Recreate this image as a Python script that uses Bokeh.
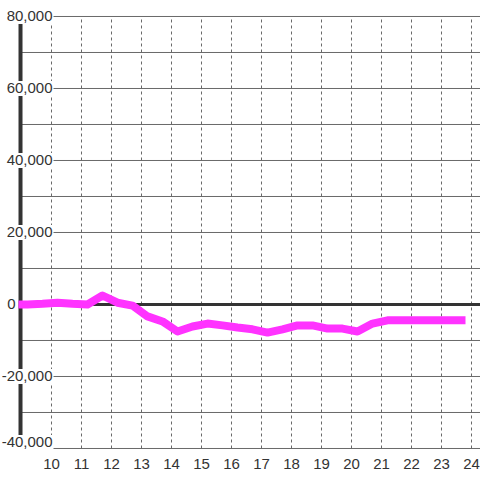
from bokeh.plotting import figure
from bokeh.models import Range1d, FixedTicker, ColumnDataSource
from bokeh.core.properties import value
from bokeh.embed import file_html
from bokeh.resources import INLINE

# ---- data ----
hours = [8.9, 9.2, 9.7, 10.2, 10.7, 11.2, 11.7, 12.2, 12.7, 13.2, 13.7, 14.2, 14.7,
         15.2, 15.7, 16.2, 16.7, 17.2, 17.7, 18.2, 18.7, 19.2, 19.7, 20.2, 20.7,
         21.2, 21.7, 22.2, 22.7, 23.2, 23.8]
values = [0, 0, 200, 500, 200, 0, 2500, 500, -300, -3300, -4700, -7500, -6100,
          -5300, -5800, -6400, -6900, -7800, -6900, -5800, -5800, -6700, -6700, -7500, -5300,
          -4400, -4400, -4400, -4400, -4400, -4400]
x_ticks = [10, 11, 12, 13, 14, 15, 16, 17, 18, 19, 20, 21, 22, 23, 24]
y_grid = [-40000, -30000, -20000, -10000, 0, 10000, 20000, 30000, 40000, 50000,
          60000, 70000, 80000]
y_label_vals = [-40000, -20000, 0, 20000, 40000, 60000, 80000]
y_labels = ["-40,000", "-20,000", "0", "20,000", "40,000", "60,000", "80,000"]

FONT = value("Liberation Sans")
W, H, BOTTOM = 480, 480, 31
X0, X1 = 8.3, 24.3
Y0, Y1 = -40278, 84444
AXIS_X = 8.967
DXPP = (X1 - X0) / W              # data units per pixel (x)
DYPP = (Y1 - Y0) / (H - BOTTOM)   # data units per pixel (y)

p = figure(width=W, height=H, output_backend="svg", toolbar_location=None,
           x_range=Range1d(X0, X1), y_range=Range1d(Y0, Y1),
           min_border_left=0, min_border_right=0, min_border_top=0, min_border_bottom=BOTTOM,
           background_fill_color="white", border_fill_color="white",
           outline_line_color=None)
p.yaxis.visible = False
p.grid.visible = False

ax = p.xaxis[0]
ax.ticker = FixedTicker(ticks=x_ticks)
ax.axis_line_color = None
ax.major_tick_line_color = None
ax.minor_tick_line_color = None
ax.major_label_text_font = "Liberation Sans"
ax.major_label_text_font_size = "15px"
ax.major_label_text_color = "#333333"
ax.major_label_standoff = 3

# horizontal grid lines (from the axis to the right edge)
p.segment(x0=[AXIS_X] * len(y_grid), x1=[X1] * len(y_grid), y0=y_grid, y1=y_grid,
          line_color="#6a6a6a", line_width=1)
# vertical dashed grid lines
p.segment(x0=x_ticks, x1=x_ticks, y0=[min(y_grid)] * len(x_ticks),
          y1=[max(y_grid)] * len(x_ticks),
          line_color="#6a6a6a", line_width=1, line_dash="3 3")
# left axis line
p.segment(x0=[AXIS_X], x1=[AXIS_X], y0=[min(y_grid)], y1=[max(y_grid)],
          line_color="#333333", line_width=4)

# label anchor positions: the lowest label sits just above its grid line
lab_idx = [i for i, v in enumerate(y_label_vals) if v != 0]
lab_y = [y_label_vals[i] + (6 * DYPP if y_label_vals[i] == min(y_label_vals) else 0)
         for i in lab_idx]

# white boxes behind the (non-zero) y labels
p.rect(x=[AXIS_X + 8 * DXPP] * len(lab_y), y=lab_y, width=50, height=15,
       width_units="screen", height_units="screen",
       fill_color="white", line_color=None)

# y labels
src_lab = ColumnDataSource(dict(x=[AXIS_X] * len(lab_idx), y=lab_y,
                                t=[y_labels[i] for i in lab_idx]))
p.text(x="x", y="y", text="t", source=src_lab, text_font=FONT, text_font_size="15px",
       text_color="#333333", text_align="right", text_baseline="middle", x_offset=32)
zi = y_label_vals.index(0)
p.text(x=[AXIS_X], y=[y_label_vals[zi]], text=[y_labels[zi]], text_font=FONT,
       text_font_size="15px", text_color="#333333", text_align="right",
       text_baseline="middle", x_offset=-5)

# zero line
p.segment(x0=[AXIS_X], x1=[X1], y0=[0], y1=[0], line_color="#333333", line_width=3)

# data line
p.line(hours, values, line_color="#ff33ff", line_width=8, line_join="round")

open("out.html", "w").write(file_html(p, INLINE))
